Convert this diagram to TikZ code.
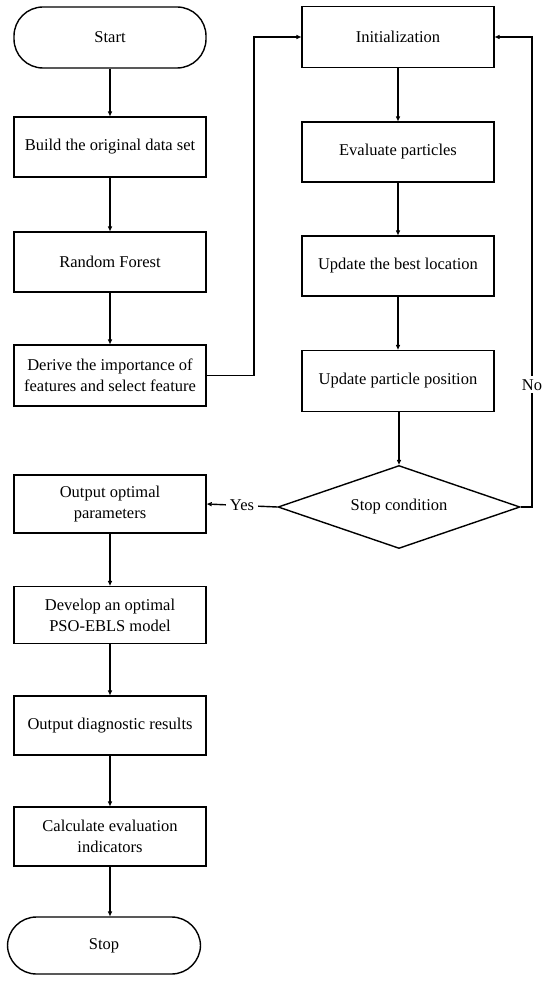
\documentclass[tikz,border=0pt]{standalone}
\usepackage{fontspec}
\setmainfont{Liberation Serif}
\usetikzlibrary{shapes.geometric,arrows.meta}
\begin{document}
\begin{tikzpicture}[x=1pt,y=-1pt,
  every node/.style={font=\fontsize{16.5}{21}\selectfont},
  box/.style={draw,line width=1.4pt,rectangle,minimum width=192pt,align=center,inner sep=0pt},
  term/.style={draw,line width=1.4pt,rectangle,rounded corners=29pt,minimum width=192pt,inner sep=0pt},
  dec/.style={draw,line width=1.4pt,diamond,aspect=2.9,minimum width=242pt,minimum height=83pt,inner sep=0pt},
  conn/.style={line width=1.4pt,-{Triangle[length=5pt,width=4pt]}}]
\useasboundingbox (0,0) rectangle (550,1006);
% left column
\node[term,minimum height=61pt] (start) at (110,37.5) {Start};
\node[box,minimum height=60pt] (build) at (110,147) {Build the original data set};
\node[box,minimum height=60pt] (rf) at (110,262) {Random Forest};
\node[box,minimum height=61pt] (derive) at (110,375.5) {Derive the importance of\\features and select feature};
% right column
\node[box,minimum height=61pt] (init) at (398,37) {Initialization};
\node[box,minimum height=60pt] (eval) at (398,152) {Evaluate particles};
\node[box,minimum height=60pt] (best) at (398,266) {Update the best location};
\node[box,minimum height=61pt] (part) at (398,381) {Update particle position};
\node[dec] (stopc) at (399,507) {Stop condition};
% left bottom
\node[box,minimum height=58pt] (out) at (110,504) {Output optimal\\parameters};
\node[box,minimum height=57pt] (dev) at (110,615) {Develop an optimal\\PSO-EBLS model};
\node[box,minimum height=59pt] (diag) at (110,725.5) {Output diagnostic results};
\node[box,minimum height=59pt] (calc) at (110,836.5) {Calculate evaluation\\indicators};
\node[term,minimum height=57pt,minimum width=193pt] (stop) at (104,945.5) {Stop};
% coordinates
\coordinate (lx) at (254,37);
\coordinate (rx) at (532,37);
% connectors
\draw[conn] (start) -- (build);
\draw[conn] (build) -- (rf);
\draw[conn] (rf) -- (derive);
\draw[conn] (derive.east) -| (lx) -- (init.west);
\draw[conn] (init) -- (eval);
\draw[conn] (eval) -- (best);
\draw[conn] (best.south) -- (best.south |- part.north);
\draw[conn] (part.south) -- (part.south -| stopc.north) -- (stopc.north);
\draw[conn] (stopc.east) -| node[pos=0.63,fill=white,inner xsep=1pt,inner ysep=3pt] (no) {No} (rx) -- (init.east);
\draw[conn] (stopc.west) -- node[fill=white,inner xsep=4pt,inner ysep=2pt] (yes) {Yes} (out.east);
\draw[conn] (out) -- (dev);
\draw[conn] (dev) -- (diag);
\draw[conn] (diag) -- (calc);
\draw[conn] (calc.south) -- (calc.south |- stop.north);
\end{tikzpicture}
\end{document}
